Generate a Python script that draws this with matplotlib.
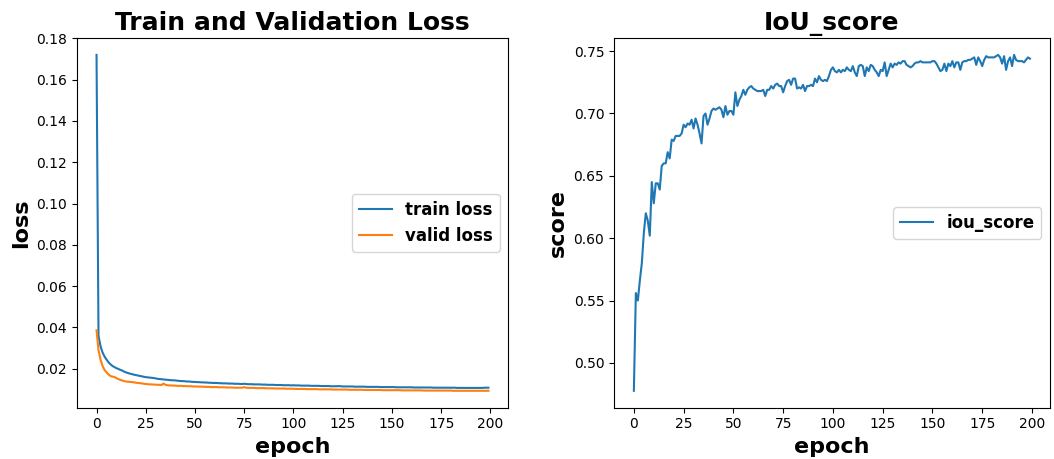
import matplotlib
matplotlib.use("Agg")
import matplotlib.pyplot as plt
import numpy as np

# values, one per epoch (0..199)
train_loss = [
    0.1720, 0.0360, 0.0310, 0.0280, 0.0260, 0.0245, 0.0232, 0.0222, 0.0214, 0.0208,
    0.0203, 0.0199, 0.0195, 0.0191, 0.0186, 0.0182, 0.0179, 0.0176, 0.0174, 0.0171,
    0.0169, 0.0167, 0.0165, 0.0163, 0.0161, 0.0159, 0.0158, 0.0157, 0.0156, 0.0155,
    0.0153, 0.0151, 0.0150, 0.0149, 0.0148, 0.0147, 0.0146, 0.0145, 0.0144, 0.0144,
    0.0143, 0.0142, 0.0141, 0.0140, 0.0140, 0.0139, 0.0138, 0.0138, 0.0137, 0.0136,
    0.0136, 0.0135, 0.0135, 0.0134, 0.0134, 0.0133, 0.0133, 0.0132, 0.0132, 0.0131,
    0.0131, 0.0131, 0.0130, 0.0130, 0.0129, 0.0129, 0.0129, 0.0128, 0.0128, 0.0128,
    0.0127, 0.0127, 0.0127, 0.0126, 0.0126, 0.0127, 0.0126, 0.0125, 0.0125, 0.0125,
    0.0124, 0.0124, 0.0124, 0.0124, 0.0123, 0.0123, 0.0123, 0.0122, 0.0122, 0.0122,
    0.0122, 0.0121, 0.0121, 0.0121, 0.0121, 0.0120, 0.0120, 0.0120, 0.0120, 0.0119,
    0.0120, 0.0119, 0.0119, 0.0119, 0.0118, 0.0118, 0.0118, 0.0118, 0.0118, 0.0117,
    0.0117, 0.0117, 0.0117, 0.0117, 0.0116, 0.0116, 0.0116, 0.0116, 0.0116, 0.0115,
    0.0115, 0.0115, 0.0115, 0.0116, 0.0115, 0.0114, 0.0114, 0.0114, 0.0114, 0.0114,
    0.0114, 0.0113, 0.0113, 0.0113, 0.0113, 0.0113, 0.0113, 0.0112, 0.0112, 0.0112,
    0.0112, 0.0112, 0.0112, 0.0112, 0.0111, 0.0111, 0.0111, 0.0111, 0.0111, 0.0111,
    0.0111, 0.0111, 0.0110, 0.0110, 0.0110, 0.0110, 0.0110, 0.0110, 0.0110, 0.0110,
    0.0110, 0.0109, 0.0109, 0.0109, 0.0109, 0.0109, 0.0109, 0.0109, 0.0109, 0.0109,
    0.0109, 0.0108, 0.0108, 0.0108, 0.0108, 0.0108, 0.0108, 0.0108, 0.0108, 0.0108,
    0.0108, 0.0108, 0.0108, 0.0107, 0.0107, 0.0107, 0.0107, 0.0107, 0.0107, 0.0107,
    0.0107, 0.0107, 0.0107, 0.0107, 0.0107, 0.0107, 0.0107, 0.0108, 0.0108, 0.0108,
]

valid_loss = [
    0.0386, 0.0290, 0.0245, 0.0215, 0.0195, 0.0183, 0.0173, 0.0165, 0.0162, 0.0160,
    0.0155, 0.0150, 0.0146, 0.0143, 0.0140, 0.0138, 0.0137, 0.0136, 0.0135, 0.0134,
    0.0132, 0.0131, 0.0130, 0.0129, 0.0127, 0.0126, 0.0125, 0.0124, 0.0124, 0.0123,
    0.0123, 0.0122, 0.0122, 0.0121, 0.0128, 0.0122, 0.0120, 0.0119, 0.0119, 0.0118,
    0.0118, 0.0117, 0.0117, 0.0117, 0.0116, 0.0116, 0.0115, 0.0115, 0.0115, 0.0114,
    0.0114, 0.0114, 0.0113, 0.0113, 0.0113, 0.0112, 0.0112, 0.0112, 0.0111, 0.0111,
    0.0111, 0.0111, 0.0110, 0.0110, 0.0110, 0.0110, 0.0109, 0.0109, 0.0109, 0.0109,
    0.0108, 0.0108, 0.0108, 0.0108, 0.0108, 0.0111, 0.0108, 0.0107, 0.0107, 0.0107,
    0.0107, 0.0106, 0.0106, 0.0106, 0.0106, 0.0106, 0.0105, 0.0105, 0.0105, 0.0105,
    0.0105, 0.0104, 0.0104, 0.0104, 0.0104, 0.0104, 0.0103, 0.0103, 0.0103, 0.0103,
    0.0103, 0.0102, 0.0102, 0.0102, 0.0102, 0.0102, 0.0102, 0.0101, 0.0101, 0.0101,
    0.0101, 0.0101, 0.0101, 0.0100, 0.0100, 0.0100, 0.0100, 0.0100, 0.0100, 0.0100,
    0.0099, 0.0099, 0.0099, 0.0099, 0.0099, 0.0099, 0.0099, 0.0099, 0.0098, 0.0098,
    0.0098, 0.0098, 0.0098, 0.0098, 0.0098, 0.0098, 0.0097, 0.0097, 0.0097, 0.0097,
    0.0097, 0.0097, 0.0097, 0.0097, 0.0097, 0.0096, 0.0096, 0.0096, 0.0096, 0.0096,
    0.0096, 0.0096, 0.0096, 0.0096, 0.0096, 0.0095, 0.0095, 0.0095, 0.0095, 0.0095,
    0.0095, 0.0095, 0.0095, 0.0095, 0.0095, 0.0095, 0.0094, 0.0094, 0.0094, 0.0094,
    0.0094, 0.0094, 0.0094, 0.0094, 0.0094, 0.0094, 0.0094, 0.0094, 0.0094, 0.0094,
    0.0094, 0.0093, 0.0093, 0.0093, 0.0093, 0.0093, 0.0093, 0.0093, 0.0093, 0.0093,
    0.0093, 0.0093, 0.0093, 0.0093, 0.0093, 0.0093, 0.0093, 0.0093, 0.0093, 0.0093,
]

iou_score = [
    0.4776, 0.5560, 0.5500, 0.5660, 0.5800, 0.6040, 0.6200, 0.6140, 0.6020, 0.6450,
    0.6280, 0.6440, 0.6440, 0.6390, 0.6580, 0.6600, 0.6600, 0.6690, 0.6640, 0.6790,
    0.6780, 0.6820, 0.6820, 0.6820, 0.6840, 0.6910, 0.6890, 0.6920, 0.6910, 0.6950,
    0.6880, 0.6960, 0.6910, 0.6840, 0.6760, 0.6980, 0.7000, 0.6910, 0.6960, 0.7020,
    0.7040, 0.7030, 0.7040, 0.7050, 0.7030, 0.6970, 0.7060, 0.6990, 0.7020, 0.7020,
    0.6990, 0.7170, 0.7060, 0.7110, 0.7140, 0.7190, 0.7150, 0.7190, 0.7210, 0.7220,
    0.7200, 0.7190, 0.7180, 0.7180, 0.7180, 0.7190, 0.7140, 0.7190, 0.7190, 0.7220,
    0.7200, 0.7230, 0.7240, 0.7220, 0.7220, 0.7170, 0.7220, 0.7260, 0.7270, 0.7230,
    0.7280, 0.7280, 0.7200, 0.7210, 0.7200, 0.7230, 0.7180, 0.7220, 0.7220, 0.7230,
    0.7220, 0.7280, 0.7250, 0.7300, 0.7270, 0.7260, 0.7270, 0.7260, 0.7300, 0.7350,
    0.7370, 0.7340, 0.7330, 0.7350, 0.7330, 0.7350, 0.7340, 0.7370, 0.7350, 0.7340,
    0.7380, 0.7330, 0.7300, 0.7380, 0.7390, 0.7380, 0.7300, 0.7370, 0.7340, 0.7390,
    0.7380, 0.7350, 0.7330, 0.7300, 0.7350, 0.7340, 0.7410, 0.7300, 0.7350, 0.7400,
    0.7370, 0.7400, 0.7390, 0.7410, 0.7400, 0.7420, 0.7420, 0.7390, 0.7380, 0.7370,
    0.7380, 0.7400, 0.7410, 0.7410, 0.7420, 0.7410, 0.7410, 0.7410, 0.7410, 0.7410,
    0.7420, 0.7420, 0.7400, 0.7370, 0.7340, 0.7350, 0.7400, 0.7340, 0.7400, 0.7380,
    0.7420, 0.7370, 0.7410, 0.7410, 0.7350, 0.7410, 0.7420, 0.7420, 0.7430, 0.7430,
    0.7440, 0.7450, 0.7390, 0.7450, 0.7420, 0.7380, 0.7430, 0.7460, 0.7450, 0.7450,
    0.7450, 0.7450, 0.7460, 0.7470, 0.7450, 0.7400, 0.7460, 0.7350, 0.7420, 0.7450,
    0.7380, 0.7470, 0.7430, 0.7420, 0.7420, 0.7420, 0.7410, 0.7430, 0.7450, 0.7440,
]

epochs = np.arange(len(train_loss))

fig = plt.figure(figsize=(10.54, 4.59), dpi=100)
ax1 = fig.add_axes([0.073, 0.112, 0.409, 0.805])
ax2 = fig.add_axes([0.5826, 0.112, 0.4134, 0.805])

legend_font = {"weight": "bold", "size": 12}

# --- left: losses ---
ax1.plot(epochs, train_loss, label="train loss")
ax1.plot(epochs, valid_loss, label="valid loss")
ax1.set_title("Train and Validation Loss", fontsize=18, fontweight="bold")
ax1.set_xlabel("epoch", fontsize=16, fontweight="bold")
ax1.set_ylabel("loss", fontsize=16, fontweight="bold")
ax1.legend(loc="center right", prop=legend_font)

# --- right: IoU ---
ax2.plot(epochs, iou_score, label="iou_score")
ax2.set_title("IoU_score", fontsize=18, fontweight="bold")
ax2.set_xlabel("epoch", fontsize=16, fontweight="bold")
ax2.set_ylabel("score", fontsize=16, fontweight="bold")
ax2.legend(loc="center right", prop=legend_font)

fig.savefig("out.png", dpi=100)
